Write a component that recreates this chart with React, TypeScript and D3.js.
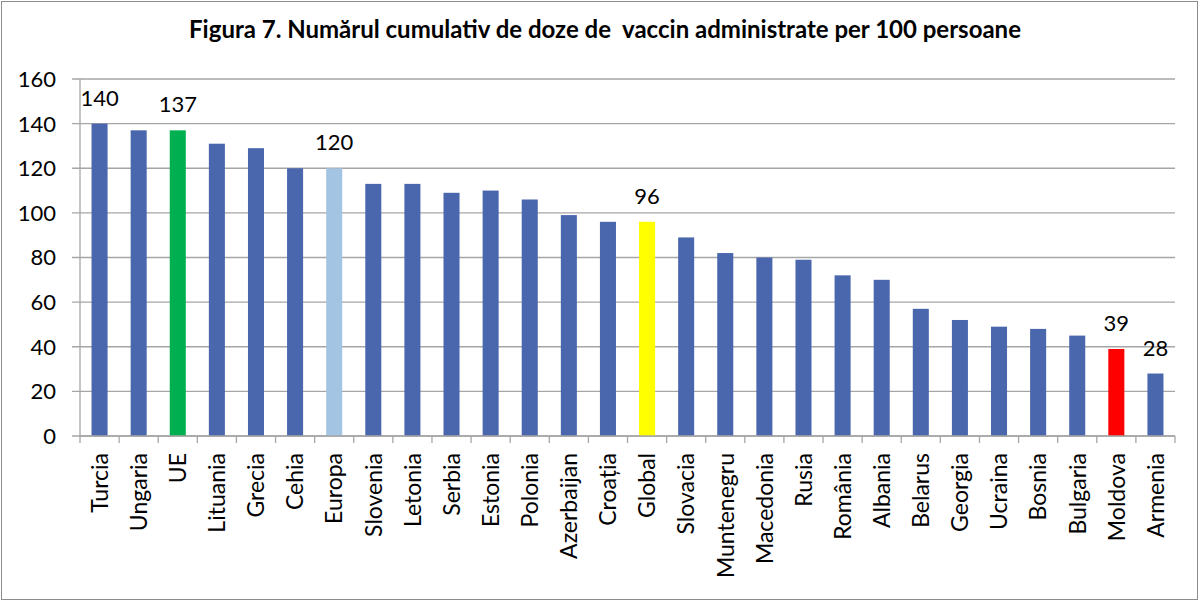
import * as d3 from "d3";

// Numărul cumulativ de doze de vaccin administrate per 100 persoane
const countries = [
  "Turcia", "Ungaria", "UE", "Lituania", "Grecia", "Cehia", "Europa",
  "Slovenia", "Letonia", "Serbia", "Estonia", "Polonia", "Azerbaijan",
  "Croația", "Global", "Slovacia", "Muntenegru", "Macedonia", "Rusia",
  "România", "Albania", "Belarus", "Georgia", "Ucraina", "Bosnia",
  "Bulgaria", "Moldova", "Armenia",
];
const doses = [
  140, 137, 137, 131, 129, 120, 120, 113, 113, 109, 110, 106, 99, 96, 96,
  89, 82, 80, 79, 72, 70, 57, 52, 49, 48, 45, 39, 28,
];
const labelled = ["Turcia", "UE", "Europa", "Global", "Moldova", "Armenia"];
const yTicks = [0, 20, 40, 60, 80, 100, 120, 140, 160];

const highlight: Record<string, string> = {
  UE: "#00b050",
  Europa: "#a3c4e2",
  Global: "#ffff00",
  Moldova: "#ff0000",
};
const BLUE = "#4a67ad";
const GRID = "#a6a6a6";
const FONT = "Lato, 'Open Sans', sans-serif";

const W = 1200;
const H = 602;
const m = { left: 80, right: 1175, top: 79, bottom: 436 };

export default function App() {
  const x = d3
    .scaleBand<string>()
    .domain(countries)
    .range([m.left, m.right])
    .paddingInner(0.59)
    .paddingOuter(0.295);
  const y = d3.scaleLinear().domain([0, 160]).range([m.bottom, m.top]);
  const step = x.step();
  const bounds = d3.range(countries.length + 1).map((i) => m.left + i * step);

  return (
    <div style={{ position: "absolute", left: 0, top: 0 }}>
      <svg width={W} height={H} style={{ display: "block", background: "#fff" }}>
        <rect x={1.5} y={1.5} width={W - 4} height={H - 4} fill="#fff" stroke="#8c8c8c" />
        <text
          x={605}
          y={38}
          textAnchor="middle"
          fontFamily={FONT}
          fontWeight="bold"
          fontSize={24}
          fill="#000"
          style={{ whiteSpace: "pre" }}
        >
          {"Figura 7. Numărul cumulativ de doze de  vaccin administrate per 100 persoane"}
        </text>

        {/* gridlines + y ticks */}
        {yTicks.map((t) => (
          <g key={t}>
            <line x1={72} x2={m.right} y1={y(t)} y2={y(t)} stroke={GRID} strokeWidth={1.3} />
            <text
              x={56}
              y={y(t)}
              dy="0.36em"
              textAnchor="end"
              fontFamily={FONT}
              fontSize={22}
              fill="#000"
            >
              {t}
            </text>
          </g>
        ))}
        <line x1={m.left} x2={m.left} y1={m.top} y2={m.bottom} stroke={GRID} strokeWidth={1.3} />

        {/* bars */}
        {countries.map((c, i) => (
          <rect
            key={c}
            x={x(c)!}
            y={y(doses[i])}
            width={x.bandwidth()}
            height={y(0) - y(doses[i])}
            fill={highlight[c] ?? BLUE}
          />
        ))}

        {/* x axis ticks between categories */}
        {bounds.map((b, i) => (
          <line key={i} x1={b} x2={b} y1={m.bottom} y2={m.bottom + 7} stroke={GRID} strokeWidth={1.3} />
        ))}
        <line x1={m.left} x2={m.right} y1={m.bottom} y2={m.bottom} stroke={GRID} strokeWidth={1.3} />

        {/* value labels */}
        {countries.map((c, i) =>
          labelled.includes(c) ? (
            <text
              key={c}
              x={x(c)! + x.bandwidth() / 2}
              y={y(doses[i]) - 18}
              textAnchor="middle"
              fontFamily={FONT}
              fontSize={22}
              fill="#000"
            >
              {doses[i]}
            </text>
          ) : null
        )}

        {/* category labels */}
        {countries.map((c) => {
          const cx = x(c)! + x.bandwidth() / 2;
          const cy = m.bottom + 17;
          return (
            <text
              key={c}
              transform={`translate(${cx},${cy}) rotate(-90)`}
              dy="0.36em"
              textAnchor="end"
              fontFamily={FONT}
              fontSize={23}
              fill="#000"
            >
              {c}
            </text>
          );
        })}
      </svg>
    </div>
  );
}
